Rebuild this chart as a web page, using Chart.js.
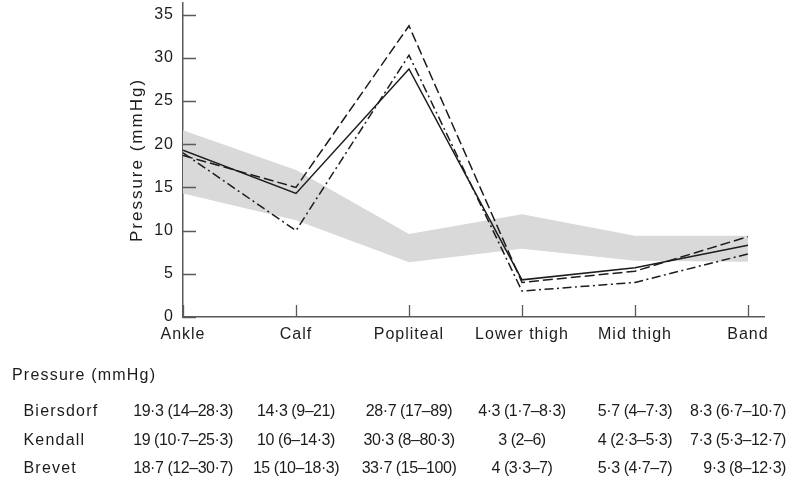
<!DOCTYPE html>
<html>
<head>
<meta charset="utf-8">
<script src="https://cdn.jsdelivr.net/npm/chart.js@4"></script>
<style>
  html, body { margin: 0; padding: 0; background: #fff; }
  #wrap { width: 795px; height: 483px; position: relative; }
</style>
</head>
<body>
<div id="wrap"><canvas id="myChart"></canvas></div>
<script>
'use strict';

// sites along the leg
const sites = ['Ankle', 'Calf', 'Popliteal', 'Lower thigh', 'Mid thigh', 'Band'];
const yTicks = [0, 5, 10, 15, 20, 25, 30, 35];

// median pressures (mmHg) with ranges
const biersdorf = [19.3, 14.3, 28.7, 4.3, 5.7, 8.3];
const biersdorfLow = [14, 9, 17, 1.7, 4, 6.7];
const biersdorfHigh = [28.3, 21, 89, 8.3, 7.3, 10.7];

const kendall = [19, 10, 30.3, 3, 4, 7.3];
const kendallLow = [10.7, 6, 8, 2, 2.3, 5.3];
const kendallHigh = [25.3, 14.3, 80.3, 6, 5.3, 12.7];

const brevet = [18.7, 15, 33.7, 4, 5.3, 9.3];
const brevetLow = [12, 10, 15, 3.3, 4.7, 8];
const brevetHigh = [30.7, 18.3, 100, 7, 7, 12.3];

// shaded reference range
const bandLow = [14.3, 11.2, 6.35, 7.9, 6.5, 6.4];
const bandHigh = [21.6, 17.0, 9.6, 11.9, 9.4, 9.4];

const axisTitle = 'Pressure (mmHg)';
const tableTitle = 'Pressure (mmHg)';
const tableRows = [
    { name: 'Biersdorf', mid: biersdorf, low: biersdorfLow, high: biersdorfHigh },
    { name: 'Kendall', mid: kendall, low: kendallLow, high: kendallHigh },
    { name: 'Brevet', mid: brevet, low: brevetLow, high: brevetHigh },
];

const ink = '#1c1c1c';
const axisGrey = '#5a5a5a';
const family = "'Liberation Sans', Arial, sans-serif";

function pts(arr) {
    return arr.map((v, i) => ({ x: i, y: v }));
}

function fmt(v) {
    return String(v).replace('.', '\u00b7');
}

Chart.defaults.font.family = family;
Chart.defaults.font.size = 16;
Chart.defaults.color = ink;

// inward ticks, the y title and the table under the chart
const extrasPlugin = {
    id: 'extras',
    beforeDraw(chart) {
        chart.ctx.letterSpacing = '1px';
    },
    afterDraw(chart) {
        const ctx = chart.ctx;
        const xs = chart.scales.x;
        const ys = chart.scales.y;
        const area = chart.chartArea;
        ctx.save();
        ctx.strokeStyle = axisGrey;
        ctx.lineWidth = 1.3;
        ctx.beginPath();
        yTicks.forEach(v => {
            const y = Math.round(ys.getPixelForValue(v)) + 0.5;
            ctx.moveTo(area.left, y);
            ctx.lineTo(area.left + 13, y);
        });
        sites.forEach((s, i) => {
            const x = Math.round(xs.getPixelForValue(i)) + 0.5;
            ctx.moveTo(x, area.bottom);
            ctx.lineTo(x, area.bottom - 12);
        });
        ctx.stroke();

        ctx.fillStyle = ink;
        ctx.textBaseline = 'middle';

        // y axis title
        ctx.save();
        ctx.translate(137, (area.top + area.bottom) / 2);
        ctx.rotate(-Math.PI / 2);
        ctx.textAlign = 'center';
        ctx.font = '17px ' + family;
        ctx.letterSpacing = '2px';
        ctx.fillText(axisTitle, 0, 0);
        ctx.restore();

        // table
        ctx.textAlign = 'left';
        ctx.font = '16px ' + family;
        ctx.letterSpacing = '1.2px';
        ctx.fillText(tableTitle, 12, 376);
        const rowY = [412, 440.5, 469];
        tableRows.forEach((row, r) => {
            ctx.textAlign = 'left';
            ctx.font = '16px ' + family;
            ctx.letterSpacing = '1.2px';
            ctx.fillText(row.name, 23.5, rowY[r]);
            ctx.font = '16px ' + family;
            ctx.letterSpacing = '-0.45px';
            ctx.textAlign = 'center';
            row.mid.forEach((m, i) => {
                const txt = fmt(m) + ' (' + fmt(row.low[i]) + '\u2013' + fmt(row.high[i]) + ')';
                const w = ctx.measureText(txt).width;
                let x = xs.getPixelForValue(i);
                if (x + w / 2 > 786) x = 786 - w / 2;
                ctx.fillText(txt, x, rowY[r]);
            });
        });
        ctx.restore();
    }
};

const lineStyle = {
    borderColor: ink,
    borderWidth: 1.5,
    pointRadius: 0,
    tension: 0,
    fill: false,
    borderJoinStyle: 'miter',
};

const ctx = document.getElementById('myChart').getContext('2d');
const chart = new Chart(ctx, {
    type: 'line',
    data: {
        datasets: [
            { ...lineStyle, label: 'Biersdorf', data: pts(biersdorf), order: 1 },
            { ...lineStyle, label: 'Kendall', data: pts(kendall), borderDash: [9, 3.5, 2, 3.5], order: 2 },
            { ...lineStyle, label: 'Brevet', data: pts(brevet), borderDash: [10, 4], order: 3 },
            { label: 'low', data: pts(bandLow), borderWidth: 0, borderColor: 'rgba(0,0,0,0)',
              pointRadius: 0, fill: false, order: 5 },
            { label: 'high', data: pts(bandHigh), borderWidth: 0, borderColor: 'rgba(0,0,0,0)',
              backgroundColor: '#d9d9d9', pointRadius: 0, fill: '-1', order: 4 },
        ]
    },
    options: {
        responsive: true,
        maintainAspectRatio: false,
        animation: false,
        events: [],
        layout: { padding: { left: 127, right: 31, top: 3, bottom: 126 } },
        plugins: {
            legend: { display: false },
            tooltip: { enabled: false },
        },
        scales: {
            x: {
                type: 'linear',
                min: 0,
                max: 5.142,
                grid: { display: false, drawTicks: false },
                border: { display: true, color: axisGrey, width: 1.5 },
                ticks: {
                    autoSkip: false,
                    maxRotation: 0,
                    padding: 8,
                    color: ink,
                    callback: v => sites[v],
                },
                afterBuildTicks: s => { s.ticks = sites.map((c, i) => ({ value: i })); },
                afterFit: s => { s.height = 40; s.paddingLeft = 0; s.paddingRight = 0; },
            },
            y: {
                min: 0,
                max: 36.34,
                grid: { display: false, drawTicks: false },
                border: { display: true, color: axisGrey, width: 1.5 },
                ticks: { padding: 9, color: ink },
                afterBuildTicks: s => { s.ticks = yTicks.map(v => ({ value: v })); },
                afterFit: s => { s.width = 56; s.paddingTop = 0; s.paddingBottom = 0; },
            },
        },
    },
    plugins: [extrasPlugin],
});
</script>
</body>
</html>
